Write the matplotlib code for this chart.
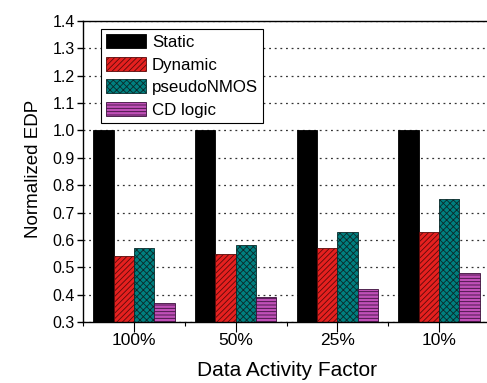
import matplotlib
matplotlib.use("Agg")
import matplotlib.pyplot as plt
import numpy as np

plt.rcParams['font.family'] = ['Liberation Sans', 'DejaVu Sans']
plt.rcParams['hatch.linewidth'] = 0.6

categories = ["100%", "50%", "25%", "10%"]
series_names = ["Static", "Dynamic", "pseudoNMOS", "CD logic"]
static_edp = [1.0, 1.0, 1.0, 1.0]
dynamic_edp = [0.54, 0.55, 0.57, 0.63]
pseudo_nmos_edp = [0.57, 0.58, 0.63, 0.75]
cd_logic_edp = [0.37, 0.39, 0.42, 0.48]
y_ticks = [0.3, 0.4, 0.5, 0.6, 0.7, 0.8, 0.9, 1.0, 1.1, 1.2, 1.3, 1.4]

W, H = 487, 383
fig = plt.figure(figsize=(W / 100, H / 100), dpi=100)
ax = fig.add_axes([83 / W, (H - 322) / H, (490 - 83) / W, (322 - 21) / H])

x = np.arange(len(categories))
bw = 0.2
styles = [
    dict(color="#000000", edgecolor="#000000", hatch=None),
    dict(color="#e5201f", edgecolor="#5a0a0a", hatch="//////"),
    dict(color="#007f7f", edgecolor="#0a2a2a", hatch="xxxxx"),
    dict(color="#c050b8", edgecolor="#3a103a", hatch="-----"),
]
all_vals = [static_edp, dynamic_edp, pseudo_nmos_edp, cd_logic_edp]
ymin = 0.3
for i, (name, vals, st) in enumerate(zip(series_names, all_vals, styles)):
    heights = np.array(vals) - ymin
    ax.bar(x + (i - 1.5) * bw, heights, bw, bottom=ymin, label=name,
           facecolor=st["color"], edgecolor=st["edgecolor"], hatch=st["hatch"],
           linewidth=0.6, zorder=3)

ax.set_xlim(-0.5, 3.5)
ax.set_ylim(0.3, 1.4)
ax.set_yticks(y_ticks)
ax.set_yticklabels([f"{v:.1f}" for v in y_ticks])
ax.set_xticks(x)
ax.set_xticklabels(categories)
ax.set_xticks([-0.5, 0.5, 1.5, 2.5], minor=True)

ax.yaxis.grid(True, linestyle=(0, (1.5, 3)), color="#333333", linewidth=0.9, zorder=0)
ax.set_axisbelow(True)

for s in ["left", "top", "bottom"]:
    ax.spines[s].set_linewidth(1.0)
    ax.spines[s].set_zorder(4)
ax.spines["right"].set_visible(False)

ax.tick_params(axis="y", direction="out", length=4, width=1.0, pad=2,
               labelsize=11.5, colors="black")
ax.tick_params(axis="x", which="major", direction="out", length=7, width=0.8,
               pad=1, labelsize=12.5)
ax.tick_params(axis="x", which="minor", direction="out", length=3, width=0.8)

fig.text(33 / W, 1 - 169 / H, "Normalized EDP", rotation=90, ha="center",
         va="center", fontsize=13.5)
fig.text(287 / W, 1 - 370 / H, "Data Activity Factor", ha="center",
         va="center", fontsize=15)

leg = ax.legend(loc="upper left", bbox_to_anchor=(101 / W, 1 - 29 / H),
                bbox_transform=fig.transFigure, borderaxespad=0,
                fontsize=12.2, frameon=True, fancybox=False, framealpha=1,
                edgecolor="black", handlelength=2.35, handleheight=0.9,
                handletextpad=0.35, labelspacing=0.4, borderpad=0.3)
leg.get_frame().set_linewidth(0.8)
leg.set_zorder(5)

fig.savefig("out.png", dpi=100)
